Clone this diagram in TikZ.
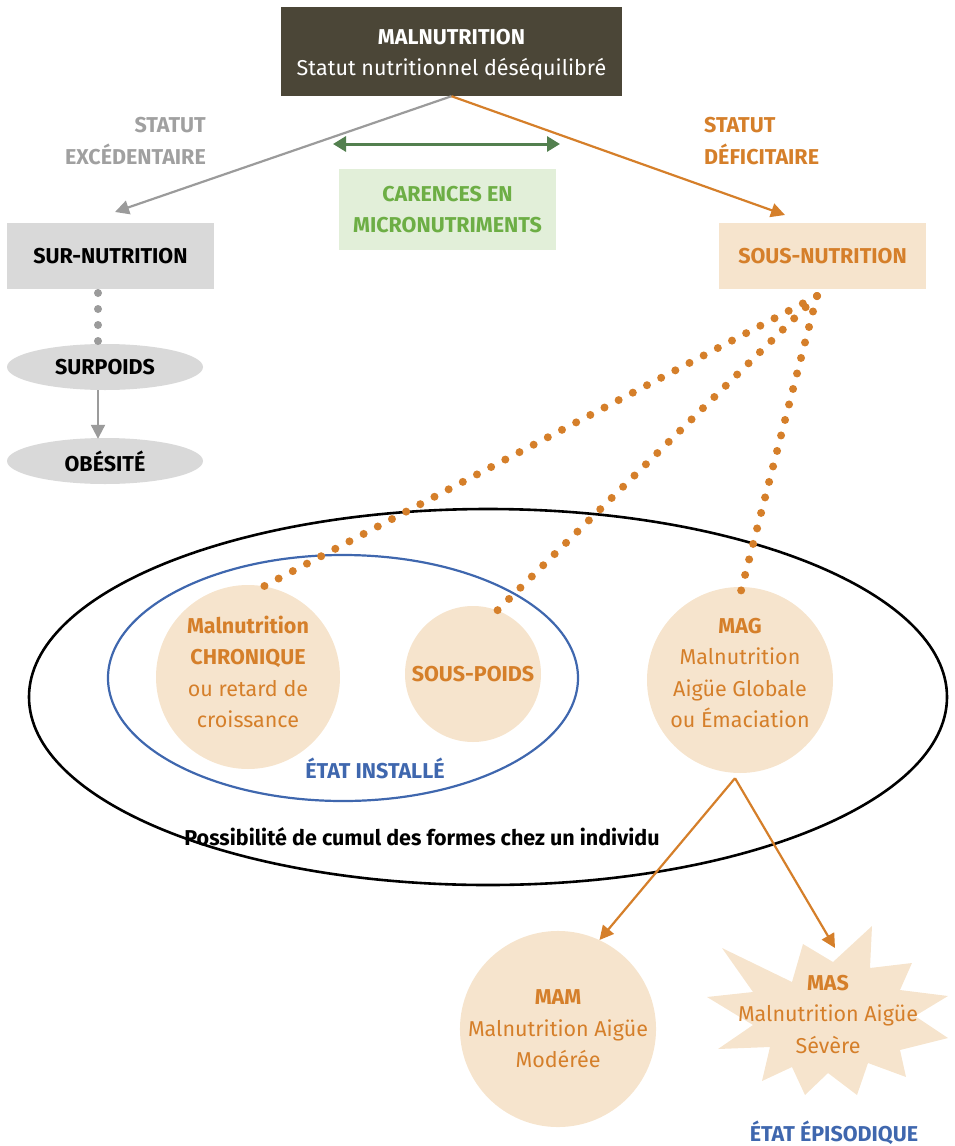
\documentclass[tikz,border=0pt]{standalone}
\usepackage{fontspec}
\setmainfont{Fira Sans}
\usetikzlibrary{arrows.meta,shapes.geometric}

\definecolor{olive}{HTML}{4B4637}
\definecolor{greyline}{HTML}{9B9B9B}
\definecolor{greytext}{HTML}{A0A0A0}
\definecolor{greyfill}{HTML}{D9D9D9}
\definecolor{ochre}{HTML}{D57F2A}
\definecolor{peach}{HTML}{F6E4CD}
\definecolor{leaf}{HTML}{6DAE45}
\definecolor{leaffill}{HTML}{E2EFD9}
\definecolor{forest}{HTML}{53804F}
\definecolor{steel}{HTML}{3F67AE}

\newcommand{\sz}{\fontsize{21.5}{31.5}\selectfont}

\tikzset{
  base/.style={font=\sz, align=center, inner sep=0pt},
  box/.style={base, rectangle, font=\sz\bfseries},
  blob/.style={base, circle, fill=peach, text=ochre},
  pill/.style={base, ellipse, fill=greyfill, font=\sz\bfseries},
  label/.style={base, font=\sz\bfseries},
  tri/.style={-{Triangle[length=14pt,width=14pt]}, line width=2.2pt},
  dots/.style={line width=8pt, line cap=round, dash pattern=on 0pt off 16pt},
}

\begin{document}
\begin{tikzpicture}[x=1pt,y=-1pt]
\useasboundingbox (0,0) rectangle (955,1146);

% outer ellipse and the "installed state" ellipse
\draw[line width=2.6pt] (488,697) ellipse [x radius=459, y radius=188];
\draw[steel, line width=2.2pt] (343,678) ellipse [x radius=235, y radius=123];

% top box
\node[box, fill=olive, minimum width=341pt, minimum height=89pt] (mal) at (451.5,51.5) {};
\node[box, text=white] (maltext) at (451.5,54.5)
  {MALNUTRITION\\\mdseries Statut nutritionnel déséquilibré};

% level 2 boxes
\node[box, fill=greyfill, minimum width=207pt, minimum height=66pt] (sur) at (110.5,256) {SUR-NUTRITION};
\node[box, fill=peach, text=ochre, minimum width=207pt, minimum height=66pt] (sous) at (822.5,256) {SOUS-NUTRITION};
\node[box, fill=leaffill, text=leaf, minimum width=217pt, minimum height=81pt] (car) at (447.5,209.5) {CARENCES EN\\MICRONUTRIMENTS};

% side labels
\node[label, text=greytext, align=right, anchor=east] (exc) at (206,141) {STATUT\\EXCÉDENTAIRE};
\node[label, text=ochre, align=left, anchor=west] (def) at (704,141) {STATUT\\DÉFICITAIRE};

% over-nutrition chain
\node[pill, minimum width=196pt, minimum height=46pt] (surp) at (105,367) {SURPOIDS};
\node[pill, minimum width=196pt, minimum height=46pt] (obes) at (105,461) {OBÉSITÉ};

% under-nutrition forms
\node[blob, minimum size=184pt] (chron) at (248,677) {};
\node[base, text=ochre] (chrontext) at (248,672)
  {\bfseries Malnutrition\\\bfseries CHRONIQUE\\ou retard de\\croissance};
\node[blob, minimum size=136pt, font=\sz\bfseries] (sp) at (473,674) {SOUS-POIDS};
\node[blob, minimum size=186pt] (mag) at (740,680) {};
\node[base, text=ochre] (magtext) at (740,673)
  {\bfseries MAG\\Malnutrition\\Aigüe Globale\\ou Émaciation};
\node[blob, minimum size=184pt] (mam) at (558,1029)
  {\bfseries MAM\\Malnutrition Aigüe\\Modérée};

% severe form: starburst
\fill[peach] (707,997) -- (753,992) -- (722,948) -- (792,982) -- (803,944) -- (833,962)
  -- (872,926) -- (870,968) -- (912,963) -- (900,990) -- (948,996) -- (915,1016)
  -- (948,1038) -- (900,1050) -- (906,1077) -- (868,1063) -- (857,1095) -- (828,1073)
  -- (805,1095) -- (792,1067) -- (762,1081) -- (770,1047) -- (718,1049) -- (753,1025) -- cycle;
\node[base, text=ochre] (mas) at (828,1014) {\bfseries MAS\\Malnutrition Aigüe\\Sévère};
\coordinate (mastip) at (835,948);

% state labels
\node[label, text=steel] (inst) at (375,768) {ÉTAT INSTALLÉ};
\node[label, text=steel] (epi) at (834,1133) {ÉTAT ÉPISODIQUE};
\node[label] (cumul) at (422,837) {Possibilité de cumul des formes chez un individu};

% main arrows
\coordinate (surtip) at (115,212);
\coordinate (soustip) at (785,215);
\draw[greyline, tri] (mal.south) -- (surtip);
\draw[ochre, tri] (mal.south) -- (soustip);
\coordinate (carl) at (333,144);
\coordinate (carr) at (560,144);
\draw[forest, line width=3pt, {Triangle[length=13pt,width=15pt]}-{Triangle[length=13pt,width=15pt]}] (carl) -- (carr);

% over-nutrition links
\coordinate (surtop) at (98,293);
\draw[greyline, dots] (surtop) -- (surp.north -| surtop);
\draw[greyline, tri] (surp.south -| surtop) -- ([yshift=-1pt]obes.north -| surtop);

% dotted links from under-nutrition
\coordinate (soufoot) at (817,296);
\draw[ochre, dots] (soufoot) -- (chron.80);
\draw[ochre, dots] (soufoot) -- (sp.69);
\draw[ochre, dots] (soufoot) -- ([yshift=-8pt]mag.north);

% acute forms
\draw[ochre, tri] ([xshift=-5pt,yshift=-5pt]mag.south) -- (mam.65);
\draw[ochre, tri] ([xshift=-5pt,yshift=-5pt]mag.south) -- (mastip);
\end{tikzpicture}
\end{document}
